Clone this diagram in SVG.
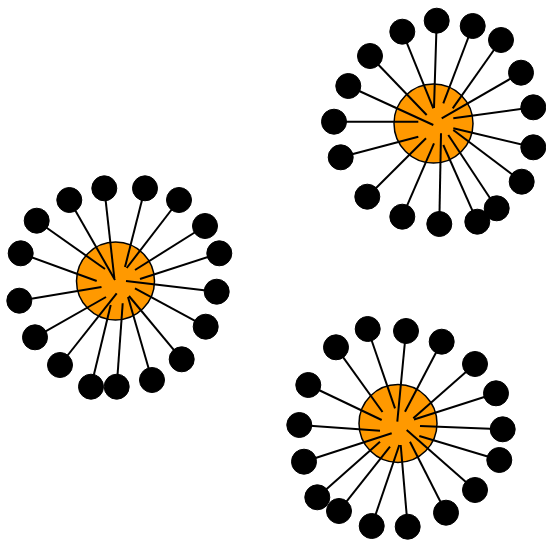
<svg xmlns="http://www.w3.org/2000/svg" width="546" height="541" viewBox="0 0 546 541">
<style>
.hub{fill:#ff9900;stroke:#000;stroke-width:1.5}
.leaf{fill:#000;stroke:#000;stroke-width:1}
#edges line{stroke:#000;stroke-width:2}
</style>
<rect width="546" height="541" fill="#fff"/>
<g id="hub1"><circle class="hub" cx="115.5" cy="281" r="39"/></g>
<g id="hub2"><circle class="hub" cx="433.5" cy="123.5" r="39.5"/></g>
<g id="hub3"><circle class="hub" cx="398" cy="423.5" r="39"/></g>
<g id="edges">
<line x1="104.3" y1="188.3" x2="114.3" y2="278"/>
<line x1="145" y1="188.3" x2="125" y2="267"/>
<line x1="69.3" y1="200" x2="115" y2="280"/>
<line x1="179" y1="200" x2="126.7" y2="268"/>
<line x1="36.7" y1="220.7" x2="105" y2="269"/>
<line x1="205" y1="226" x2="135" y2="270"/>
<line x1="20.7" y1="253.3" x2="96.7" y2="281"/>
<line x1="219.3" y1="253.3" x2="140" y2="279"/>
<line x1="19.3" y1="300.7" x2="101.5" y2="287"/>
<line x1="216.7" y1="291.7" x2="126" y2="281"/>
<line x1="35" y1="337.3" x2="106" y2="297"/>
<line x1="205.7" y1="326.7" x2="135" y2="288.3"/>
<line x1="60" y1="365" x2="116.7" y2="293.3"/>
<line x1="181.7" y1="359.3" x2="129" y2="296"/>
<line x1="91" y1="386.7" x2="110.7" y2="305"/>
<line x1="116.7" y1="386.7" x2="122.7" y2="303.3"/>
<line x1="152" y1="380" x2="128" y2="297"/>
<line x1="436.7" y1="20.7" x2="434" y2="108"/>
<line x1="402.3" y1="31.7" x2="433.3" y2="108.3"/>
<line x1="472.7" y1="26" x2="443.3" y2="103.3"/>
<line x1="501" y1="40" x2="452.7" y2="108.3"/>
<line x1="370" y1="56" x2="426.7" y2="115"/>
<line x1="521" y1="72.7" x2="441.7" y2="118.3"/>
<line x1="348.3" y1="86" x2="433.3" y2="125"/>
<line x1="533.3" y1="107.3" x2="453.3" y2="118.3"/>
<line x1="334" y1="121.7" x2="418.3" y2="121.7"/>
<line x1="533.3" y1="147.3" x2="453.3" y2="128.3"/>
<line x1="340.7" y1="157.3" x2="418.3" y2="136.7"/>
<line x1="521.7" y1="181.7" x2="453.3" y2="130"/>
<line x1="367.3" y1="196.7" x2="426" y2="138.3"/>
<line x1="496.7" y1="208.3" x2="448.3" y2="135"/>
<line x1="402.3" y1="216.7" x2="434" y2="143.3"/>
<line x1="439.3" y1="224" x2="441" y2="133.3"/>
<line x1="477.3" y1="221.7" x2="443.3" y2="145"/>
<line x1="367.7" y1="329" x2="395" y2="408.3"/>
<line x1="406" y1="331" x2="397.3" y2="421.7"/>
<line x1="441.7" y1="341.7" x2="405" y2="411.7"/>
<line x1="336" y1="347.3" x2="382.5" y2="412"/>
<line x1="475" y1="364" x2="413.3" y2="418.3"/>
<line x1="308.3" y1="385" x2="381.7" y2="420"/>
<line x1="496" y1="393.3" x2="414" y2="419.5"/>
<line x1="299.3" y1="425" x2="380" y2="430.7"/>
<line x1="502.7" y1="429.3" x2="420" y2="426"/>
<line x1="304" y1="461.7" x2="391.7" y2="433.3"/>
<line x1="499.3" y1="460" x2="419.3" y2="436"/>
<line x1="317.3" y1="497.3" x2="380" y2="441.7"/>
<line x1="475" y1="490" x2="406.7" y2="430"/>
<line x1="339" y1="511" x2="390" y2="446.7"/>
<line x1="446" y1="512.7" x2="410" y2="441.7"/>
<line x1="371.7" y1="526" x2="399.3" y2="445"/>
<line x1="407.7" y1="526.7" x2="400.7" y2="445"/>
</g>
<g id="leaf1-1"><circle class="leaf" cx="104.3" cy="188.3" r="12.5"/></g>
<g id="leaf1-2"><circle class="leaf" cx="145" cy="188.3" r="12.5"/></g>
<g id="leaf1-3"><circle class="leaf" cx="69.3" cy="200" r="12.5"/></g>
<g id="leaf1-4"><circle class="leaf" cx="179" cy="200" r="12.5"/></g>
<g id="leaf1-5"><circle class="leaf" cx="36.7" cy="220.7" r="12.5"/></g>
<g id="leaf1-6"><circle class="leaf" cx="205" cy="226" r="12.5"/></g>
<g id="leaf1-7"><circle class="leaf" cx="20.7" cy="253.3" r="12.5"/></g>
<g id="leaf1-8"><circle class="leaf" cx="219.3" cy="253.3" r="12.5"/></g>
<g id="leaf1-9"><circle class="leaf" cx="19.3" cy="300.7" r="12.5"/></g>
<g id="leaf1-10"><circle class="leaf" cx="216.7" cy="291.7" r="12.5"/></g>
<g id="leaf1-11"><circle class="leaf" cx="35" cy="337.3" r="12.5"/></g>
<g id="leaf1-12"><circle class="leaf" cx="205.7" cy="326.7" r="12.5"/></g>
<g id="leaf1-13"><circle class="leaf" cx="60" cy="365" r="12.5"/></g>
<g id="leaf1-14"><circle class="leaf" cx="181.7" cy="359.3" r="12.5"/></g>
<g id="leaf1-15"><circle class="leaf" cx="91" cy="386.7" r="12.5"/></g>
<g id="leaf1-16"><circle class="leaf" cx="116.7" cy="386.7" r="12.5"/></g>
<g id="leaf1-17"><circle class="leaf" cx="152" cy="380" r="12.5"/></g>
<g id="leaf2-1"><circle class="leaf" cx="436.7" cy="20.7" r="12.5"/></g>
<g id="leaf2-2"><circle class="leaf" cx="402.3" cy="31.7" r="12.5"/></g>
<g id="leaf2-3"><circle class="leaf" cx="472.7" cy="26" r="12.5"/></g>
<g id="leaf2-4"><circle class="leaf" cx="501" cy="40" r="12.5"/></g>
<g id="leaf2-5"><circle class="leaf" cx="370" cy="56" r="12.5"/></g>
<g id="leaf2-6"><circle class="leaf" cx="521" cy="72.7" r="12.5"/></g>
<g id="leaf2-7"><circle class="leaf" cx="348.3" cy="86" r="12.5"/></g>
<g id="leaf2-8"><circle class="leaf" cx="533.3" cy="107.3" r="12.5"/></g>
<g id="leaf2-9"><circle class="leaf" cx="334" cy="121.7" r="12.5"/></g>
<g id="leaf2-10"><circle class="leaf" cx="533.3" cy="147.3" r="12.5"/></g>
<g id="leaf2-11"><circle class="leaf" cx="340.7" cy="157.3" r="12.5"/></g>
<g id="leaf2-12"><circle class="leaf" cx="521.7" cy="181.7" r="12.5"/></g>
<g id="leaf2-13"><circle class="leaf" cx="367.3" cy="196.7" r="12.5"/></g>
<g id="leaf2-14"><circle class="leaf" cx="496.7" cy="208.3" r="12.5"/></g>
<g id="leaf2-15"><circle class="leaf" cx="402.3" cy="216.7" r="12.5"/></g>
<g id="leaf2-16"><circle class="leaf" cx="439.3" cy="224" r="12.5"/></g>
<g id="leaf2-17"><circle class="leaf" cx="477.3" cy="221.7" r="12.5"/></g>
<g id="leaf3-1"><circle class="leaf" cx="367.7" cy="329" r="12.5"/></g>
<g id="leaf3-2"><circle class="leaf" cx="406" cy="331" r="12.5"/></g>
<g id="leaf3-3"><circle class="leaf" cx="441.7" cy="341.7" r="12.5"/></g>
<g id="leaf3-4"><circle class="leaf" cx="336" cy="347.3" r="12.5"/></g>
<g id="leaf3-5"><circle class="leaf" cx="475" cy="364" r="12.5"/></g>
<g id="leaf3-6"><circle class="leaf" cx="308.3" cy="385" r="12.5"/></g>
<g id="leaf3-7"><circle class="leaf" cx="496" cy="393.3" r="12.5"/></g>
<g id="leaf3-8"><circle class="leaf" cx="299.3" cy="425" r="12.5"/></g>
<g id="leaf3-9"><circle class="leaf" cx="502.7" cy="429.3" r="12.5"/></g>
<g id="leaf3-10"><circle class="leaf" cx="304" cy="461.7" r="12.5"/></g>
<g id="leaf3-11"><circle class="leaf" cx="499.3" cy="460" r="12.5"/></g>
<g id="leaf3-12"><circle class="leaf" cx="317.3" cy="497.3" r="12.5"/></g>
<g id="leaf3-13"><circle class="leaf" cx="475" cy="490" r="12.5"/></g>
<g id="leaf3-14"><circle class="leaf" cx="339" cy="511" r="12.5"/></g>
<g id="leaf3-15"><circle class="leaf" cx="446" cy="512.7" r="12.5"/></g>
<g id="leaf3-16"><circle class="leaf" cx="371.7" cy="526" r="12.5"/></g>
<g id="leaf3-17"><circle class="leaf" cx="407.7" cy="526.7" r="12.5"/></g>
</svg>
